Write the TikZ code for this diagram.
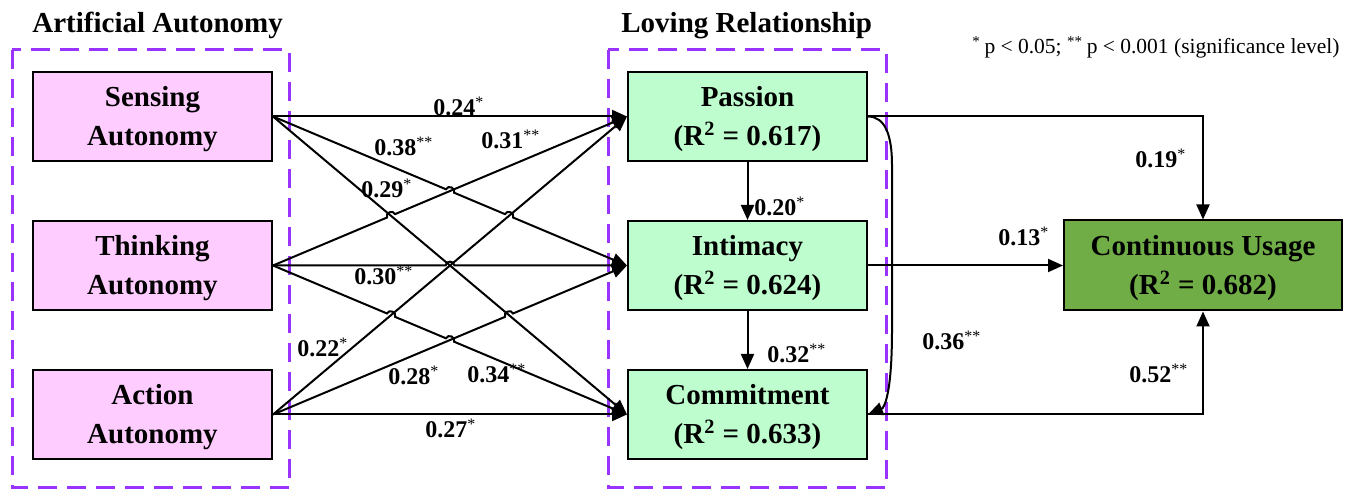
\documentclass[tikz,border=0pt]{standalone}
\usepackage{fontspec}
\setmainfont{Liberation Serif}
\usetikzlibrary{arrows.meta,calc}
\definecolor{pinkfill}{RGB}{255,204,255}
\definecolor{mintfill}{RGB}{190,253,206}
\definecolor{usagefill}{RGB}{112,173,71}
\definecolor{dashpurple}{RGB}{153,51,255}
\newcommand\sigmark[1]{\textsuperscript{\mdseries #1}}
\newcommand\hopr{2.2pt}
\begin{document}
\begin{tikzpicture}[x=0.5pt,y=-0.5pt,
  box/.style={draw=black, line width=1pt, minimum width=119.5pt, minimum height=44.5pt,
    align=center, font=\fontsize{14.5}{19.5}\selectfont\bfseries, inner sep=0pt, text depth=0.6pt},
  leftbox/.style={box, fill=pinkfill},
  midbox/.style={box, fill=mintfill},
  conn/.style={line width=1pt, -{Triangle[length=7.5pt,width=6.5pt]}},
  lab/.style={font=\fontsize{12}{14}\selectfont\bfseries, inner sep=0pt, anchor=base west},
  grp/.style={draw=dashpurple, line width=1.5pt, dash pattern=on 9.5pt off 5pt},
  hdr/.style={font=\fontsize{14.5}{17}\selectfont\bfseries, inner sep=0pt, anchor=base west},
  hop/.style={bend left=90, looseness=1.5}
]
\useasboundingbox (0,0) rectangle (1350,490);
% group frames
\draw[grp] (12,50) rectangle (289,488);
\draw[grp] (608,50) rectangle (886,488);
% headers
\node[hdr] (hA) at (32,33) {Artificial Autonomy};
\node[hdr] (hL) at (621,33) {Loving Relationship};
\node[font=\fontsize{10.75}{13}\selectfont, inner sep=0pt, anchor=base west] (note) at (972,54)
  {\textsuperscript{*}\,p < 0.05; \textsuperscript{**}\,p < 0.001 (significance level)};
% boxes
\node[leftbox] (sens) at (152.5,116.5) {Sensing\\Autonomy};
\node[leftbox] (think) at (152.5,265.5) {Thinking\\Autonomy};
\node[leftbox] (act) at (152.5,414.5) {Action\\Autonomy};
\node[midbox] (pas) at (747.5,116.5) {Passion\\(R\textsuperscript{2} = 0.617)};
\node[midbox] (int) at (747.5,265.5) {Intimacy\\(R\textsuperscript{2} = 0.624)};
\node[midbox] (com) at (747.5,414.5) {Commitment\\(R\textsuperscript{2} = 0.633)};
\node[box, fill=usagefill, minimum width=139pt, minimum height=45pt] (cu) at (1203,265.5)
  {Continuous Usage\\(R\textsuperscript{2} = 0.682)};
% anchor coordinates
\coordinate (sE) at (sens.east);
\coordinate (tE) at (think.east);
\coordinate (aE) at (act.east);
\coordinate (pW) at (pas.west);
\coordinate (iW) at (int.west);
\coordinate (cW) at (com.west);
% crossings
\coordinate (c1) at (intersection of sE--iW and tE--pW);
\coordinate (c2) at (intersection of sE--iW and aE--pW);
\coordinate (c3) at (intersection of sE--cW and tE--pW);
\coordinate (c4) at (intersection of tE--iW and sE--cW);
\coordinate (c5) at (intersection of tE--cW and aE--pW);
\coordinate (c6) at (intersection of aE--iW and sE--cW);
\coordinate (c7) at (intersection of tE--cW and aE--iW);
% straight paths
\draw[conn] (sE) -- (pW);
\draw[conn] (sE) -- (cW);
\draw[conn] (aE) -- (pW);
\draw[conn] (aE) -- (cW);
% paths with line jumps
\draw[conn] (sE) -- ($(c1)!\hopr!(sE)$) to[hop] ($(c1)!\hopr!(iW)$)
  -- ($(c2)!\hopr!(sE)$) to[hop] ($(c2)!\hopr!(iW)$) -- (iW);
\draw[conn] (tE) -- ($(c3)!\hopr!(tE)$) to[hop] ($(c3)!\hopr!(pW)$) -- (pW);
\draw[conn] (tE) -- ($(c4)!\hopr!(tE)$) to[hop] ($(c4)!\hopr!(iW)$) -- (iW);
\draw[conn] (tE) -- ($(c5)!\hopr!(tE)$) to[hop] ($(c5)!\hopr!(cW)$)
  -- ($(c7)!\hopr!(tE)$) to[hop] ($(c7)!\hopr!(cW)$) -- (cW);
\draw[conn] (aE) -- ($(c6)!\hopr!(aE)$) to[hop] ($(c6)!\hopr!(iW)$) -- (iW);
% inner paths
\draw[conn] (pas.south) -- (int.north);
\draw[conn] (int.south) -- (com.north);
\draw[conn] (pas.east) -- (pas.east -| cu.north) -- (cu.north);
\draw[conn] (int.east) -- (cu.west);
\draw[conn] (com.east) -- (com.east -| cu.south) -- (cu.south);
\draw[conn] (pas.east) .. controls (885,116.5) and (892,135) .. (892,165) -- (892,330)
  .. controls (892,395) and (884,408) .. (com.east);
% labels
\node[lab] (l24) at (433,116) {0.24\sigmark{*}};
\node[lab] (l38) at (374,156) {0.38\sigmark{**}};
\node[lab] (l31) at (481,149) {0.31\sigmark{**}};
\node[lab] (l29) at (361,198) {0.29\sigmark{*}};
\node[lab] (l30) at (354,285) {0.30\sigmark{**}};
\node[lab] (l22) at (297,357) {0.22\sigmark{*}};
\node[lab] (l28) at (388,385) {0.28\sigmark{*}};
\node[lab] (l34) at (467,383) {0.34\sigmark{**}};
\node[lab] (l27) at (425,438) {0.27\sigmark{*}};
\node[lab] (l20) at (754,216) {0.20\sigmark{*}};
\node[lab] (l32) at (767,363) {0.32\sigmark{**}};
\node[lab] (l19) at (1135,168) {0.19\sigmark{*}};
\node[lab] (l13) at (998,246) {0.13\sigmark{*}};
\node[lab] (l36) at (922,350) {0.36\sigmark{**}};
\node[lab] (l52) at (1129,383) {0.52\sigmark{**}};
\end{tikzpicture}
\end{document}
